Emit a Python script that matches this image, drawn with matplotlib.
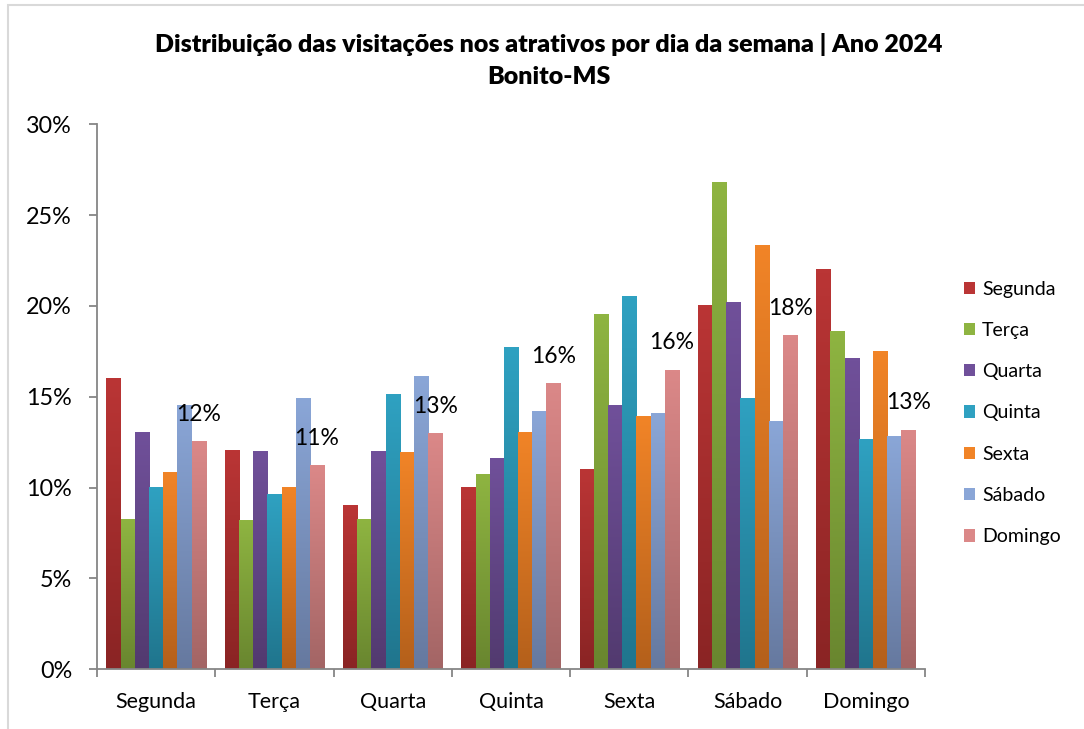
import matplotlib
matplotlib.use("Agg")
import matplotlib.pyplot as plt
from matplotlib.colors import LinearSegmentedColormap
from matplotlib.patches import Patch, Rectangle
from matplotlib.ticker import FuncFormatter
import numpy as np

# categories (day the visit happened) and one series per weekday
dias = ["Segunda", "Terça", "Quarta", "Quinta", "Sexta", "Sábado", "Domingo"]
segunda = [16.0, 12.05, 9.0, 10.0, 11.0, 20.0, 22.0]
terca = [8.25, 8.15, 8.25, 10.7, 19.5, 26.8, 18.6]
quarta = [13.0, 11.95, 11.95, 11.6, 14.5, 20.15, 17.1]
quinta = [10.0, 9.6, 15.1, 17.7, 20.5, 14.9, 12.65]
sexta = [10.8, 10.0, 11.9, 13.0, 13.9, 23.3, 17.45]
sabado = [14.5, 14.9, 16.1, 14.2, 14.05, 13.65, 12.8]
domingo = [12.5, 11.2, 12.95, 15.7, 16.45, 18.35, 13.15]
series = [segunda, terca, quarta, quinta, sexta, sabado, domingo]
# labels shown above the Domingo bars
rotulos = ["12%", "11%", "13%", "16%", "16%", "18%", "13%"]

# (top colour, bottom colour) for the excel-like gradient
cores = [("#BA3535", "#8A2424"), ("#8EB441", "#69862F"), ("#70509A", "#523A6F"),
         ("#2FA1C1", "#20758D"), ("#F18427", "#B4601B"), ("#8AA6D7", "#66799F"),
         ("#DB8888", "#A36565")]

plt.rcParams['font.family'] = ['Lato', 'DejaVu Sans']

fig = plt.figure(figsize=(10.84, 7.29), dpi=100)
ax = fig.add_axes([0.0895, 0.0819, 0.7638, 0.7476])

x = np.arange(len(dias))
w = 0.12
grad = np.linspace(0, 1, 100).reshape(-1, 1)

for i, vals in enumerate(series):
    top, bottom = cores[i]
    cmap = LinearSegmentedColormap.from_list("g%d" % i, [bottom, top])
    bars = ax.bar(x + (i - 3) * w, vals, w, color="none", edgecolor="none")
    for b in bars:
        x0, bw, bh = b.get_x(), b.get_width(), b.get_height()
        ax.imshow(grad, cmap=cmap, extent=[x0, x0 + bw, 0, bh], aspect="auto",
                  origin="lower", zorder=2, interpolation="bilinear")
    if i == 6:
        for b, txt in zip(bars, rotulos):
            ax.annotate(txt, (b.get_x() + bw / 2, b.get_height()), xytext=(0, 20),
                        textcoords="offset points", ha="center", va="center",
                        fontsize=16.5, color="black", zorder=5)

ax.set_xlim(-0.5, 6.5)
ax.set_ylim(0, 30)
ax.set_yticks(np.arange(0, 31, 5))
ax.yaxis.set_major_formatter(FuncFormatter(lambda v, p: "%d%%" % v))
ax.set_xticks(x)
ax.set_xticklabels(dias)
ax.set_xticks(np.arange(-0.5, 7, 1), minor=True)

for s in ["top", "right"]:
    ax.spines[s].set_visible(False)
for s in ["left", "bottom"]:
    ax.spines[s].set_color("#868686")
    ax.spines[s].set_linewidth(1.3)

ax.tick_params(axis="y", length=6, width=1.3, color="#868686", labelsize=16.8, pad=12)
ax.tick_params(axis="x", which="major", length=0, labelsize=15.5, pad=16)
ax.tick_params(axis="x", which="minor", length=6, width=1.3, color="#868686")

fig.text(0.506, 0.9396, "Distribuição das visitações nos atrativos por dia da semana | Ano 2024",
         ha="center", va="center", fontsize=18, fontweight="heavy")
fig.text(0.506, 0.8944, "Bonito-MS", ha="center", va="center", fontsize=18, fontweight="heavy")

handles = [Patch(facecolor=c[0], edgecolor="none") for c in cores]
fig.legend(handles, dias, loc="center left", bbox_to_anchor=(0.889, 0.4335),
           frameon=False, fontsize=14, handlelength=0.6, handleheight=0.6,
           handletextpad=0.35, labelspacing=1.25, borderpad=0, borderaxespad=0)

# light outer frame of the chart area
fig.add_artist(Rectangle((0.0074, -0.1), 1.2, 1.0931, transform=fig.transFigure,
                         fill=False, edgecolor="#d9d9d9", linewidth=1.5))

fig.savefig("out.png", dpi=100)
